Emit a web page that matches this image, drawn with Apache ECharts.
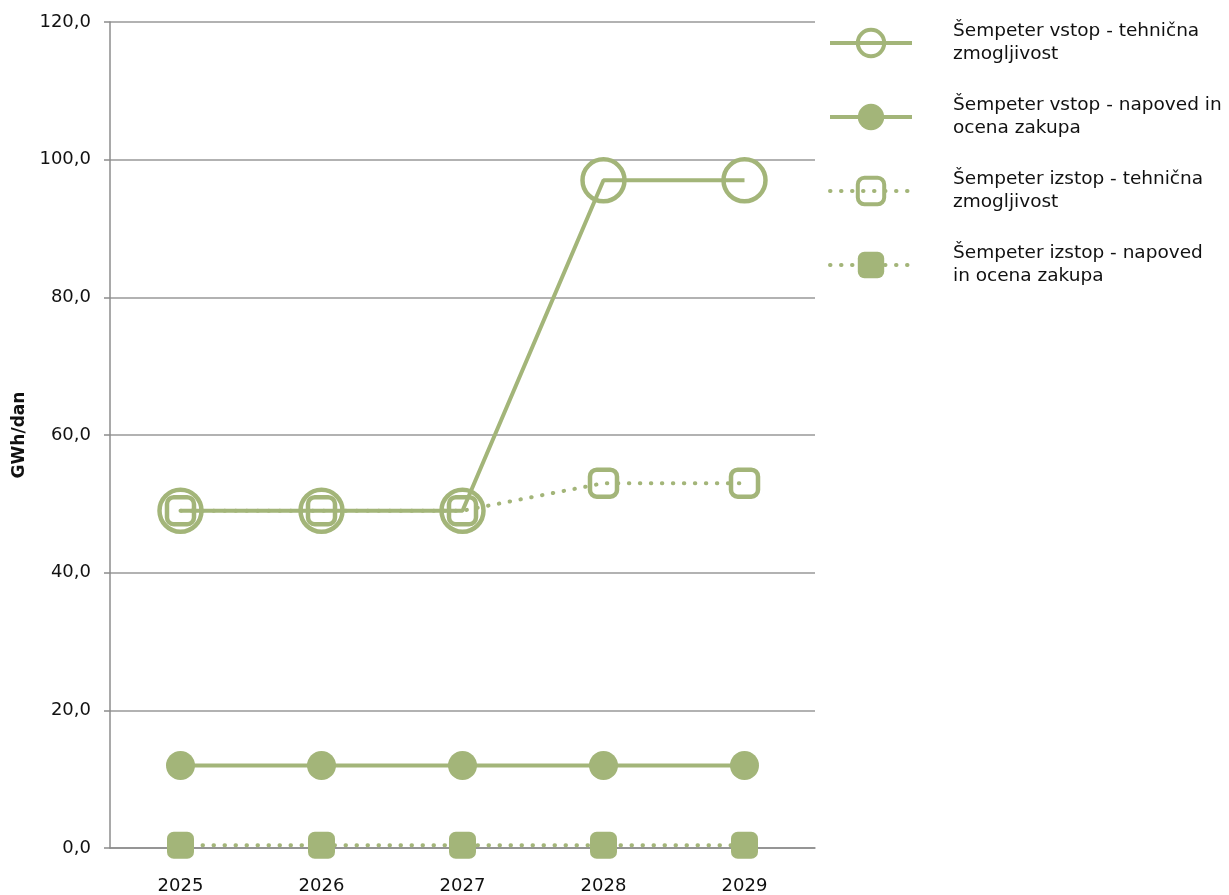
<!DOCTYPE html>
<html><head><meta charset="utf-8">
<script src="https://cdn.jsdelivr.net/npm/echarts@6/dist/echarts.min.js"></script>
<style>html,body{margin:0;padding:0;background:#fff}#c{width:1229px;height:895px}</style>
</head><body><div id="c"></div>
<script>
const categories = ['2025','2026','2027','2028','2029'];
const vstopTehnicna = [49, 49, 49, 97, 97];
const vstopNapoved = [12, 12, 12, 12, 12];
const izstopTehnicna = [49, 49, 49, 53, 53];
const izstopNapoved = [0.4, 0.4, 0.4, 0.4, 0.4];
const seriesNames = [
  'Šempeter vstop - tehnična\nzmogljivost',
  'Šempeter vstop - napoved in\nocena zakupa',
  'Šempeter izstop - tehnična\nzmogljivost',
  'Šempeter izstop - napoved\nin ocena zakupa'
];
const yTicks = [0, 20, 40, 60, 80, 100, 120];

const green = '#a3b579';
const font = 'DejaVu Sans';
const chart = echarts.init(document.getElementById('c'));
chart.setOption({
  animation: false,
  textStyle: { fontFamily: font },
  grid: { left: 110, right: 414, top: 22, bottom: 47 },
  legend: {
    orient: 'vertical', left: 828, top: 20, padding: 0,
    itemWidth: 82, itemHeight: 33, itemGap: 28,
    lineStyle: { width: 4 },
    itemStyle: { borderWidth: 4 },
    textStyle: { fontFamily: font, fontSize: 18.5, color: '#111', lineHeight: 23, padding: [0,0,0,36] },
    data: seriesNames
  },
  xAxis: {
    type: 'category', data: categories, boundaryGap: true,
    axisLine: { lineStyle: { color: '#8c8c8c', width: 1.5 } },
    axisTick: { show: false },
    axisLabel: { color: '#111', fontSize: 18, margin: 29, fontFamily: font }
  },
  yAxis: {
    type: 'value', min: yTicks[0], max: yTicks[yTicks.length-1], interval: 20,
    name: 'GWh/dan', nameLocation: 'middle', nameGap: 82,
    nameTextStyle: { fontWeight: 'bold', fontSize: 17, color: '#111', fontFamily: font },
    axisLine: { show: true, lineStyle: { color: '#8c8c8c', width: 1.5 } },
    axisTick: { show: true, length: 6, lineStyle: { color: '#8c8c8c', width: 1.5 } },
    splitLine: { lineStyle: { color: '#999', width: 1.5 } },
    axisLabel: { color: '#111', fontSize: 18, margin: 19, fontFamily: font,
      formatter: v => v.toFixed(1).replace('.', ',') }
  },
  series: [
    { name: seriesNames[0], type: 'line', data: vstopTehnicna,
      symbol: 'circle', symbolSize: 42,
      lineStyle: { color: green, width: 4 },
      itemStyle: { color: 'rgba(255,255,255,0)', borderColor: green, borderWidth: 4.5 } },
    { name: seriesNames[1], type: 'line', data: vstopNapoved,
      symbol: 'circle', symbolSize: 29,
      lineStyle: { color: green, width: 4 },
      itemStyle: { color: green, borderWidth: 0 } },
    { name: seriesNames[2], type: 'line', data: izstopTehnicna,
      symbol: 'roundRect', symbolSize: 27,
      lineStyle: { color: green, width: 4, type: [0.5, 10.5], cap: 'round' },
      itemStyle: { color: 'rgba(255,255,255,0)', borderColor: green, borderWidth: 4.5 } },
    { name: seriesNames[3], type: 'line', data: izstopNapoved,
      symbol: 'roundRect', symbolSize: 27,
      lineStyle: { color: green, width: 4, type: [0.5, 10.5], cap: 'round' },
      itemStyle: { color: green, borderWidth: 0 } }
  ]
});
</script></body></html>
